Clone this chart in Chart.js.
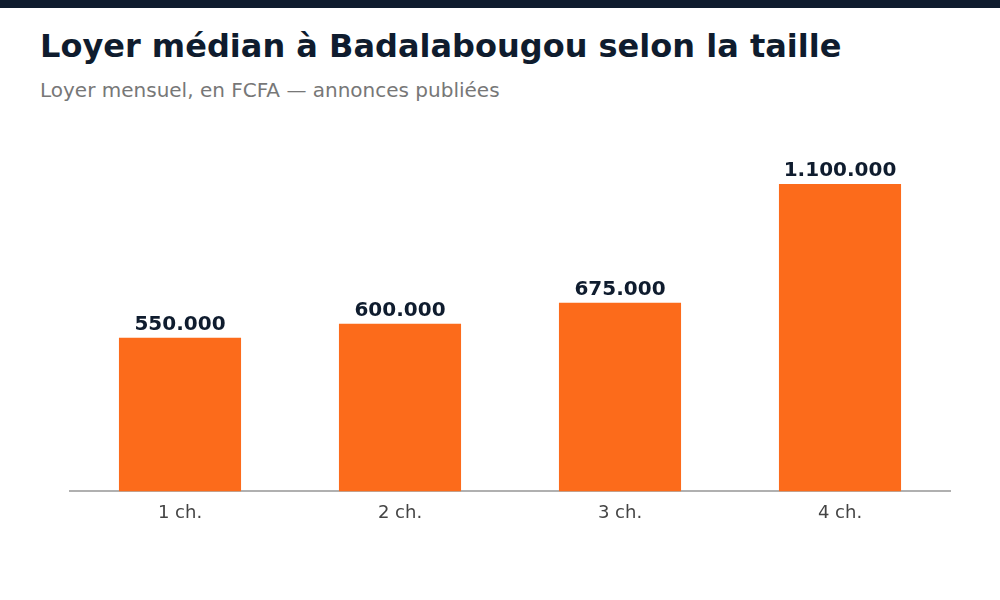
<!DOCTYPE html>
<html>
<head>
<meta charset="utf-8">
<script src="https://cdn.jsdelivr.net/npm/chart.js@4"></script>
<style>
  body { margin: 0; width: 1000px; height: 600px; position: relative; background: #fff; font-family: "DejaVu Sans", sans-serif; overflow: hidden; }
  .topbar { position: absolute; left: 0; top: 0; width: 1000px; height: 8px; background: #0f1c2e; }
  h1 { position: absolute; left: 40px; top: 26px; margin: 0; font-size: 32px; font-weight: bold; color: #0f1c2e; line-height: 40px; }
  .sub { position: absolute; left: 40px; top: 77px; margin: 0; font-size: 20px; color: #777; line-height: 26px; }
  .wrap { position: absolute; left: 0; top: 0; width: 1000px; height: 600px; }
</style>
</head>
<body>
<div class="topbar"></div>
<h1>Loyer médian à Badalabougou selon la taille</h1>
<p class="sub">Loyer mensuel, en FCFA — annonces publiées</p>
<div class="wrap"><canvas id="chart" width="1000" height="600"></canvas></div>
<script>
const categories = ["1 ch.", "2 ch.", "3 ch.", "4 ch."];
const loyers = [550000, 600000, 675000, 1100000];

function formatFCFA(v) {
  return String(v).replace(/\B(?=(\d{3})+(?!\d))/g, ".");
}

const valueLabels = {
  id: "valueLabels",
  afterDatasetsDraw(chart) {
    const { ctx } = chart;
    const meta = chart.getDatasetMeta(0);
    ctx.save();
    ctx.font = "bold 20px 'DejaVu Sans'";
    ctx.fillStyle = "#0f1c2e";
    ctx.textAlign = "center";
    ctx.textBaseline = "alphabetic";
    meta.data.forEach((bar, i) => {
      ctx.fillText(formatFCFA(loyers[i]), bar.x, bar.y - 8);
    });
    ctx.restore();
  }
};

new Chart(document.getElementById("chart"), {
  type: "bar",
  data: {
    labels: categories,
    datasets: [{
      data: loyers,
      backgroundColor: "#fc6b1b",
      categoryPercentage: 1,
      barPercentage: 0.555
    }]
  },
  options: {
    responsive: false,
    animation: false,
    layout: { padding: { left: 70, right: 50, top: 156, bottom: 65 } },
    plugins: { legend: { display: false }, tooltip: { enabled: false } },
    scales: {
      x: {
        grid: { display: false, drawTicks: false },
        border: { display: true, color: "#b0b0b0", width: 2 },
        ticks: { color: "#444", font: { family: "DejaVu Sans", size: 18 }, padding: 11 }
      },
      y: {
        display: false,
        min: 0,
        max: 1200000
      }
    }
  },
  plugins: [valueLabels]
});
</script>
</body>
</html>
